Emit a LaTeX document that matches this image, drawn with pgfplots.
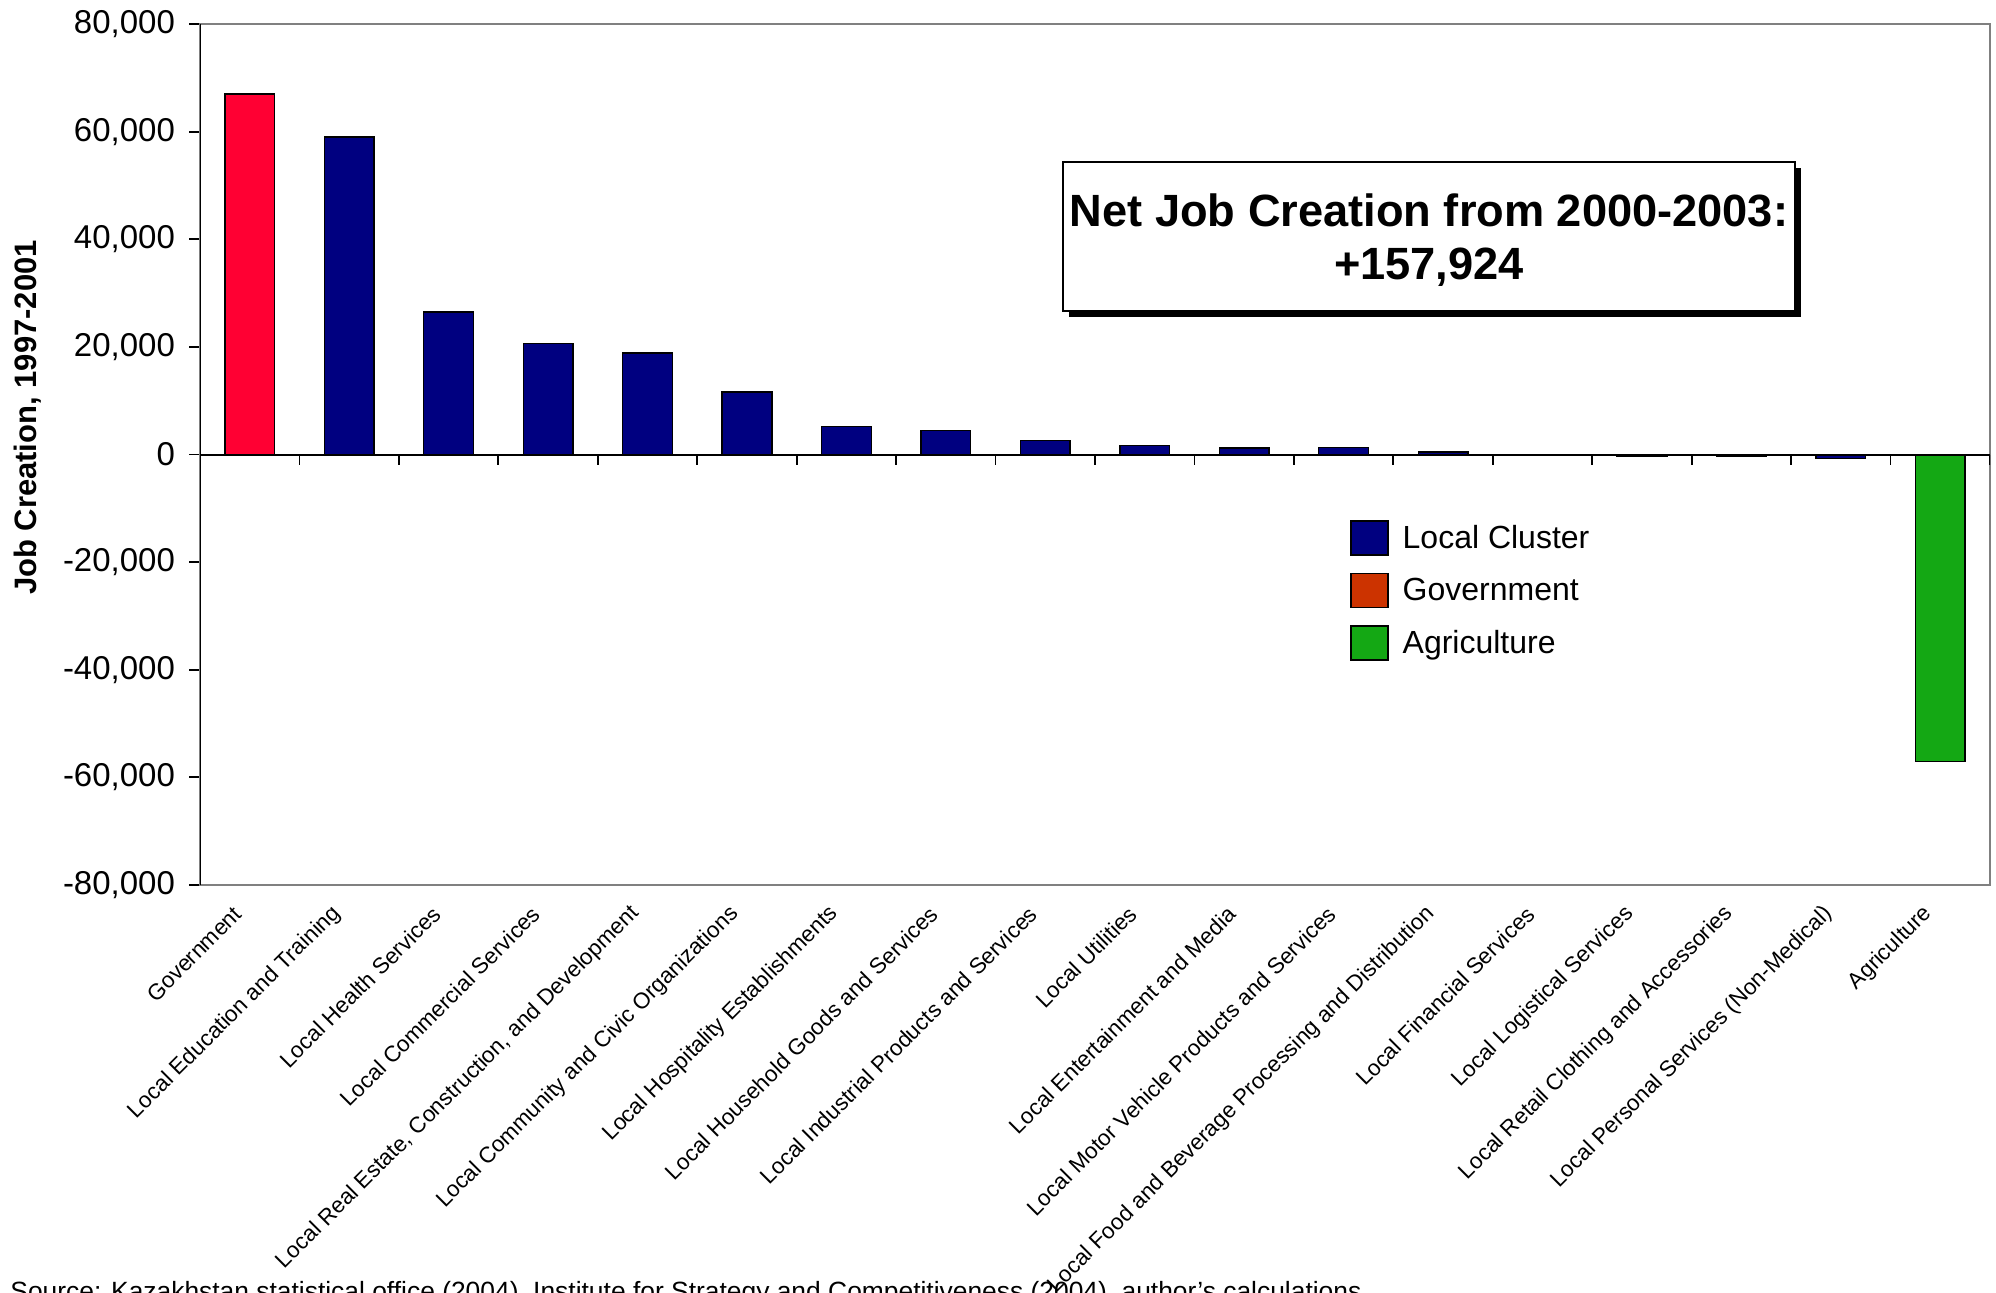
\documentclass[border=0pt]{standalone}
\usepackage{fontspec}
\setmainfont{Liberation Sans}
\usepackage{pgfplots}
\pgfplotsset{compat=1.18}
\definecolor{navyc}{HTML}{000080}
\definecolor{govred}{HTML}{FF0033}
\definecolor{govleg}{HTML}{CC3300}
\definecolor{agrgreen}{HTML}{14A814}
\begin{document}
\begin{tikzpicture}[x=1pt,y=1pt]
\path[use as bounding box] (0,0) rectangle (998,-646.5);
\begin{axis}[
  at={(100pt,-442.5pt)}, anchor=south west,
  scale only axis, width=895pt, height=430.5pt,
  xmin=-0.5, xmax=17.5, ymin=-80000, ymax=80000,
  ytick={-80000,-60000,...,80000},
  scaled y ticks=false,
  ytick pos=left,
  tick align=outside,
  major tick length=5.5pt,
  tick style={black, line width=0.9pt},
  major x tick style={draw=none},
  axis line style={gray, line width=0.8pt},
  yticklabel style={/pgf/number format/.cd, 1000 sep={,}, assume math mode=true, /tikz/.cd, font=\fontsize{16.5}{19}\selectfont, xshift=-3.5pt},
  xtick={0,...,17},
  xticklabels={Government, Local Education and Training, Local Health Services, Local Commercial Services, {Local Real Estate, Construction, and Development}, Local Community and Civic Organizations, Local Hospitality Establishments, Local Household Goods and Services, Local Industrial Products and Services, Local Utilities, Local Entertainment and Media, Local Motor Vehicle Products and Services, Local Food and Beverage Processing and Distribution, Local Financial Services, Local Logistical Services, Local Retail Clothing and Accessories, Local Personal Services (Non-Medical), Agriculture},
  xticklabel style={xshift=-3.5pt, yshift=-4.7pt, rotate=45, anchor=east, font=\fontsize{11.2}{13}\selectfont},
  legend cell align=left,
  legend image code/.code={\draw[#1] (0pt,-8.25pt) rectangle (18.5pt,8.75pt);},
  legend style={draw=none, fill=none, at={(axis description cs:0.6425,0.424)}, anchor=north west,
    font=\fontsize{16}{19}\selectfont, inner sep=0pt, outer sep=0pt, row sep=8.5pt,
    nodes={inner sep=0pt}, /tikz/every odd column/.append style={column sep=7pt}},
]
\addplot[ybar, bar width=0.5, bar shift=0pt, fill=govred, draw=black, line width=0.7pt, forget plot]
  coordinates {(0,67000)};
\addplot[ybar, bar width=0.5, bar shift=0pt, fill=navyc, draw=black, line width=0.7pt, forget plot]
  coordinates {(1,59000) (2,26500) (3,20600) (4,18900) (5,11600) (6,5200) (7,4500) (8,2600) (9,1650) (10,1200) (11,1300) (12,500) (13,0) (14,-300) (15,-300) (16,-700)};
\addplot[ybar, bar width=0.5, bar shift=0pt, fill=agrgreen, draw=black, line width=0.7pt, forget plot]
  coordinates {(17,-57000)};
\addlegendimage{fill=navyc, draw=black, line width=0.8pt}
\addlegendentry{Local Cluster}
\addlegendimage{fill=govleg, draw=black, line width=0.8pt}
\addlegendentry{Government}
\addlegendimage{fill=agrgreen, draw=black, line width=0.8pt}
\addlegendentry{Agriculture}
\draw[black, line width=1pt] (rel axis cs:0,0) -- (rel axis cs:0,1);
\draw[black, line width=1pt] (axis cs:-0.5,0) -- (axis cs:17.5,0);
\pgfplotsinvokeforeach{0.5,1.5,...,17.5}{\draw[black, line width=0.9pt] (axis cs:#1,0) -- ++(0pt,-5pt);}
\end{axis}
\node[rotate=90, anchor=base, font=\bfseries\fontsize{15.5}{18}\selectfont] at (18,-208.75) {Job Creation, 1997-2001};
\fill[black] (534.5,-84) rectangle (900.5,-158.5);
\draw[black, fill=white, line width=0.8pt] (531.5,-81) rectangle (897.5,-155.5);
\node[anchor=base, font=\bfseries\fontsize{22.6}{26}\selectfont] at (714.5,-113.5) {Net Job Creation from 2000-2003:};
\node[anchor=base, font=\bfseries\fontsize{22.6}{26}\selectfont] at (714.5,-140) {+157,924};
\node[anchor=base west, inner sep=0pt, font=\fontsize{13.2}{15}\selectfont] at (5,-650) {Source: Kazakhstan statistical office (2004), Institute for Strategy and Competitiveness (2004), author’s calculations};
\end{tikzpicture}
\end{document}
